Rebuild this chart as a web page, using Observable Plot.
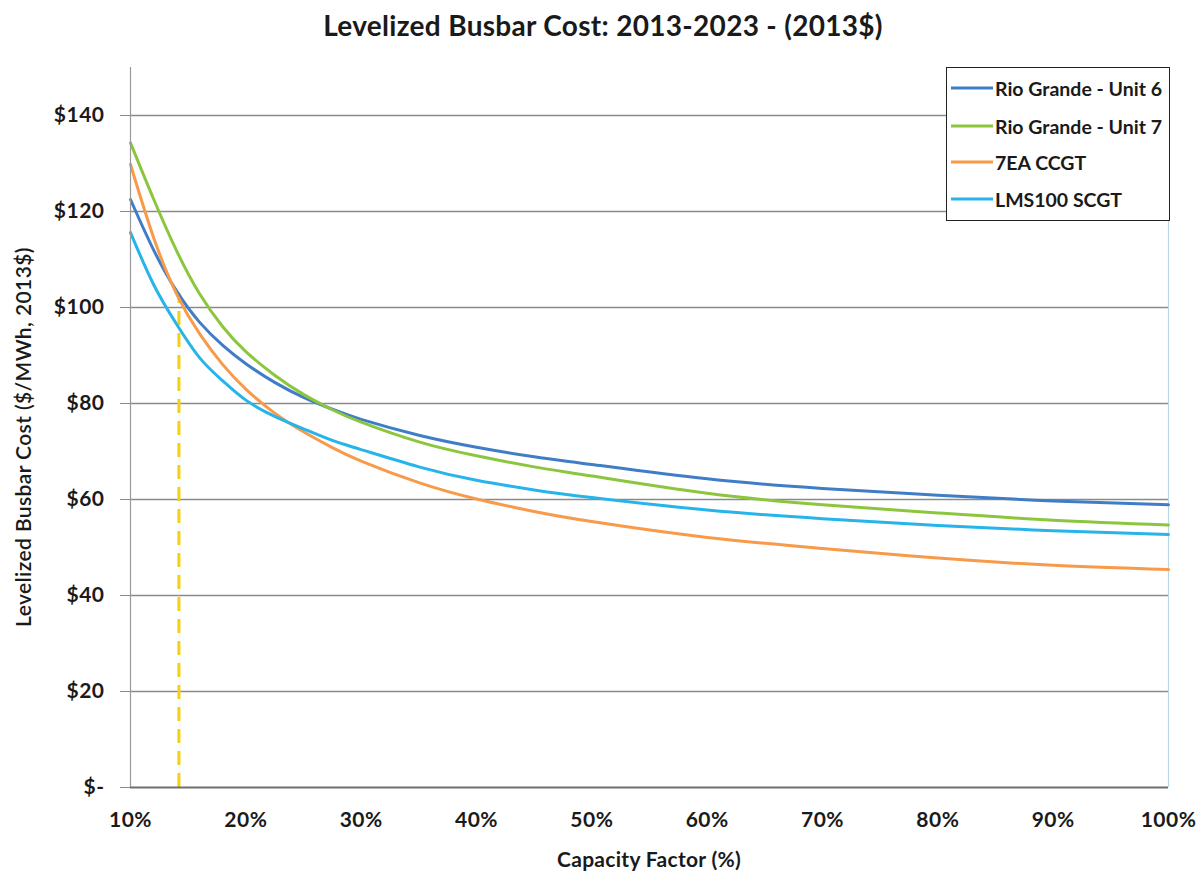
<!DOCTYPE html>
<html>
<head>
<meta charset="utf-8">
<script src="https://cdn.jsdelivr.net/npm/d3@7"></script>
<script src="https://cdn.jsdelivr.net/npm/@observablehq/plot@0.6"></script>
<style>
  html, body { margin: 0; padding: 0; background: #fff; }
  #wrap { position: relative; width: 1200px; height: 874px; font-family: Lato, "Open Sans", sans-serif; color: #1a1a1a; overflow: hidden; }
  #title { position: absolute; left: 0; top: 8px; width: 1206px; text-align: center; font-size: 28px; font-weight: bold; letter-spacing: 0.3px; }
  #chart { position: absolute; left: 0; top: 54px; }
  #ylabel { position: absolute; left: 22px; top: 437px; transform: translate(-50%, -50%) rotate(-90deg); white-space: nowrap; font-size: 21px; font-weight: 600; letter-spacing: 0.4px; }
  #xlabel { position: absolute; left: 649px; top: 858px; transform: translate(-50%, -50%); white-space: nowrap; font-size: 21px; font-weight: bold; letter-spacing: 0.3px; }
  #legend { position: absolute; left: 946px; top: 67px; width: 224px; height: 154px; border: 1.5px solid #222; background: #fff; box-sizing: border-box; }
  .item { position: absolute; left: 4px; height: 24px; display: flex; align-items: center; font-size: 19.5px; font-weight: bold; white-space: nowrap; }
  .item svg { margin-right: 2px; }
</style>
</head>
<body>
<div id="wrap">
  <div id="title">Levelized Busbar Cost: 2013-2023 - (2013$)</div>
  <div id="chart"></div>
  <div id="ylabel">Levelized Busbar Cost ($/MWh, 2013$)</div>
  <div id="xlabel">Capacity Factor (%)</div>
  <div id="legend"></div>
</div>
<script>
// Capacity factor (%) sample points shared by every curve
const capacityFactor = [10, 12, 14, 16, 18, 20, 22.5, 25, 27.5, 30, 35, 40, 45, 50, 60, 70, 80, 90, 100];

// Levelized busbar cost ($/MWh, 2013$) for each unit
const rioGrande6 = [122.5, 112.0, 103.4, 96.9, 92.1, 88.3, 84.4, 81.3, 78.8, 76.7, 73.4, 70.9, 68.9, 67.3, 64.3, 62.3, 60.9, 59.7, 58.9];
const rioGrande7 = [134.3, 122.6, 111.8, 102.8, 96.0, 90.8, 85.9, 81.9, 78.7, 76.1, 72.0, 69.1, 66.8, 64.9, 61.3, 58.9, 57.2, 55.7, 54.7];
const ccgt7EA    = [129.8, 114.6, 102.8, 94.5, 88.1, 83.0, 78.0, 74.1, 70.8, 68.0, 63.5, 60.1, 57.5, 55.4, 52.1, 49.8, 47.8, 46.3, 45.4];
const scgtLMS100 = [115.6, 104.8, 96.5, 89.5, 84.7, 80.7, 77.3, 74.7, 72.3, 70.4, 66.8, 64.0, 62.0, 60.4, 57.8, 56.0, 54.6, 53.5, 52.7];

const seriesNames = ["Rio Grande - Unit 6", "Rio Grande - Unit 7", "7EA CCGT", "LMS100 SCGT"];
const seriesValues = [rioGrande6, rioGrande7, ccgt7EA, scgtLMS100];
const seriesColors = ["#3f7ec6", "#8cc63f", "#f79a4a", "#26b4ea"];

// Axis ticks
const xTicks = [10, 20, 30, 40, 50, 60, 70, 80, 90, 100];
const yTicks = [0, 20, 40, 60, 80, 100, 120, 140];

// Dashed reference marker
const markerCF = 14.2;
const markerCost = 103;

const rows = seriesNames.flatMap((name, i) =>
  capacityFactor.map((cf, j) => ({series: name, cf, cost: seriesValues[i][j]}))
);

const chart = Plot.plot({
  width: 1200,
  height: 820,
  marginLeft: 130,
  marginRight: 32,
  marginTop: 13,
  marginBottom: 87,
  style: {fontFamily: "Lato, sans-serif", fontSize: "21px", fontWeight: "bold", color: "#1a1a1a", background: "transparent", letterSpacing: "0.5px"},
  x: {domain: [10, 100]},
  y: {domain: [0, 150]},
  color: {domain: seriesNames, range: seriesColors},
  marks: [
    Plot.ruleY(yTicks.filter(d => d > 0), {stroke: "#8a8a8a", strokeWidth: 1.6}),
    Plot.ruleX([100], {y1: 0, y2: 150, stroke: "#b9d7e6", strokeWidth: 1.2}),
    Plot.ruleX([markerCF], {y1: 0, y2: markerCost, stroke: "#f5cf10", strokeWidth: 3, strokeDasharray: "14,8"}),
    Plot.line(rows, {x: "cf", y: "cost", stroke: "series", strokeWidth: 3, curve: "natural"}),
    Plot.ruleX([10], {y1: 0, y2: 150, stroke: "#9a9a9a", strokeWidth: 1.2}),
    Plot.ruleY([0], {stroke: "#6e6e6e", strokeWidth: 2}),
    Plot.axisY({ticks: yTicks, tickFormat: d => d === 0 ? "$-" : "$" + d, tickSize: 10, tickPadding: 16, stroke: "#8a8a8a", label: null}),
    Plot.axisX({ticks: xTicks, tickFormat: d => d + "%", tickSize: 0, tickPadding: 25, label: null})
  ]
});
document.getElementById("chart").appendChild(chart);

// Legend entries
const legend = document.getElementById("legend");
const itemTops = [8, 46, 82, 119];
seriesNames.forEach((name, i) => {
  const item = document.createElement("div");
  item.className = "item";
  item.style.top = itemTops[i] + "px";
  item.innerHTML = `<svg width="42" height="6"><line x1="0" y1="3" x2="42" y2="3" stroke="${seriesColors[i]}" stroke-width="3"/></svg><span>${name}</span>`;
  legend.appendChild(item);
});
</script>
</body>
</html>
